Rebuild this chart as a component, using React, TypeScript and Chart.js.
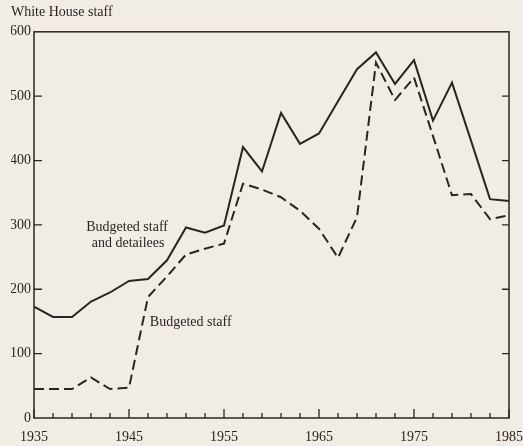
import React, { useEffect, useRef } from "react";
import { Chart, registerables } from "chart.js";

Chart.register(...registerables);

// ---- data ----
const years = [1935, 1937, 1939, 1941, 1943, 1945, 1947, 1949, 1951, 1953, 1955, 1957, 1959, 1961, 1963, 1965, 1967, 1969, 1971, 1973, 1975, 1977, 1979, 1981, 1983, 1985];
const staffAndDetailees = [173, 157, 157, 181, 195, 213, 216, 245, 296, 288, 299, 421, 383, 474, 426, 442, 492, 542, 568, 519, 556, 462, 521, 431, 340, 337];
const budgetedStaff = [45, 45, 45, 63, 45, 47, 188, 220, 254, 263, 271, 364, 355, 343, 322, 294, 249, 312, 552, 494, 529, 438, 346, 348, 309, 315];
const xTickLabels = [1935, 1945, 1955, 1965, 1975, 1985];
const xMinorTicks = years;
const yTickValues = [100, 200, 300, 400, 500];
const titleText = "White House staff";
const seriesLabelLines = ["Budgeted staff", "and detailees", "Budgeted staff"];
const seriesLabelYears = [1944.8, 1944.9, 1951.5];
const seriesLabelValues = [297, 271, 149];

const INK = "#2b2424";
const FONT = "'Liberation Serif', 'DejaVu Serif', serif";

const framePlugin = {
  id: "frameAndTicks",
  afterDatasetsDraw(chart: any) {
    const { ctx, chartArea } = chart;
    const { left, right, top, bottom } = chartArea;
    const xs = chart.scales.x;
    const ys = chart.scales.y;
    ctx.save();
    ctx.strokeStyle = INK;
    ctx.lineWidth = 1.5;
    ctx.strokeRect(left, top, right - left, bottom - top);
    ctx.lineWidth = 1.3;
    ctx.beginPath();
    for (const yr of xMinorTicks) {
      const px = xs.getPixelForValue(yr);
      const len = (yr - 1935) % 10 === 0 ? 9 : 5;
      ctx.moveTo(px, bottom);
      ctx.lineTo(px, bottom - len);
    }
    for (const v of yTickValues) {
      const py = ys.getPixelForValue(v);
      ctx.moveTo(left, py);
      ctx.lineTo(left + 8, py);
      ctx.moveTo(right, py);
      ctx.lineTo(right - 7, py);
    }
    ctx.stroke();
    ctx.fillStyle = INK;
    ctx.font = `14px ${FONT}`;
    ctx.textAlign = "center";
    ctx.textBaseline = "middle";
    seriesLabelLines.forEach((t, i) => {
      ctx.fillText(t, xs.getPixelForValue(seriesLabelYears[i]), ys.getPixelForValue(seriesLabelValues[i]));
    });
    ctx.restore();
  },
};

export default function App() {
  const ref = useRef<HTMLCanvasElement | null>(null);
  useEffect(() => {
    if (!ref.current) return;
    const chart = new Chart(ref.current, {
      type: "line",
      data: {
        datasets: [
          {
            label: "Budgeted staff and detailees",
            data: years.map((y, i) => ({ x: y, y: staffAndDetailees[i] })),
            borderColor: INK,
            borderWidth: 2,
            pointRadius: 0,
            tension: 0,
            fill: false,
          },
          {
            label: "Budgeted staff",
            data: years.map((y, i) => ({ x: y, y: budgetedStaff[i] })),
            borderColor: INK,
            borderWidth: 2,
            borderDash: [10, 5],
            pointRadius: 0,
            tension: 0,
            fill: false,
          },
        ],
      },
      options: {
        animation: false,
        responsive: false,
        devicePixelRatio: 1,
        layout: { padding: { left: 11, right: 14, top: 0, bottom: 0 } },
        plugins: {
          legend: { display: false },
          tooltip: { enabled: false },
          title: {
            display: true,
            text: titleText,
            align: "start",
            color: INK,
            font: { family: FONT, size: 14, weight: "normal" },
            padding: { top: 4, bottom: 11 },
          },
        },
        scales: {
          x: {
            type: "linear",
            min: 1935,
            max: 1985,
            grid: { display: false, drawTicks: false, tickLength: 0 },
            border: { display: false },
            afterBuildTicks: (scale: any) => {
              scale.ticks = xTickLabels.map((v) => ({ value: v }));
            },
            afterFit: (scale: any) => {
              scale.height = 28;
              scale.paddingLeft = 0;
              scale.paddingRight = 0;
            },
            ticks: {
              color: INK,
              font: { family: FONT, size: 14 },
              padding: 11,
              maxRotation: 0,
              autoSkip: false,
              callback: (v: any) => String(v),
            },
          },
          y: {
            min: 0,
            max: 600,
            grid: { display: false, drawTicks: false, tickLength: 0 },
            border: { display: false },
            afterFit: (scale: any) => {
              scale.width = 23;
              scale.paddingTop = 0;
              scale.paddingBottom = 0;
            },
            ticks: {
              stepSize: 100,
              color: INK,
              font: { family: FONT, size: 14 },
              padding: 3,
            },
          },
        },
      },
      plugins: [framePlugin],
    });
    return () => chart.destroy();
  }, []);
  return (
    <div style={{ position: "fixed", left: 0, top: 0, width: 523, height: 446, background: "#f1ede4" }}>
      <canvas ref={ref} width={523} height={446} />
    </div>
  );
}
